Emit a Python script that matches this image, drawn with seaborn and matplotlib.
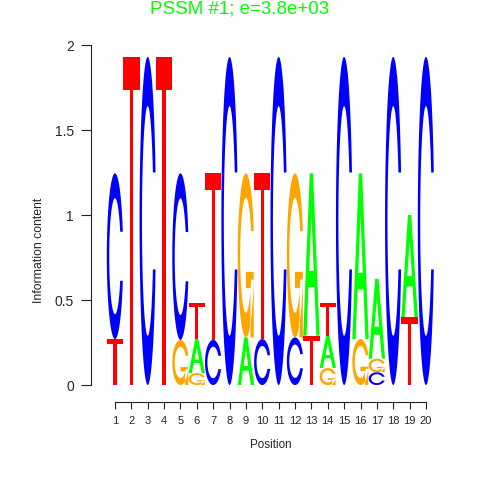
import numpy as np
import pandas as pd
import matplotlib
matplotlib.use("Agg")
import matplotlib.pyplot as plt
import seaborn as sns
from matplotlib.path import Path
from matplotlib.patches import PathPatch

# information content (bits) per letter
positions = list(range(1, 21))
bits_A = [0, 0, 0, 0, 0, 0.20, 0, 0, 0.28, 0, 0, 0, 0.955, 0.19, 0, 0.975, 0.47, 0, 0.60, 0]
bits_C = [0.975, 0, 1.93, 0, 0.98, 0, 0.265, 1.93, 0, 0.27, 1.93, 0.28, 0, 0, 1.93, 0, 0.075, 1.93, 0, 1.93]
bits_G = [0, 0, 0, 0, 0.265, 0.07, 0, 0, 0.965, 0, 0, 0.965, 0, 0.10, 0, 0.27, 0.08, 0, 0, 0]
bits_T = [0.27, 1.93, 0, 1.93, 0, 0.21, 0.98, 0, 0, 0.975, 0, 0, 0.29, 0.19, 0, 0, 0, 0, 0.40, 0]

y_ticks = [0, 0.5, 1, 1.5, 2]
y_tick_labels = ["0", "0.5", "1", "1.5", "2"]
title = "PSSM #1; e=3.8e+03"

letter_colors = {"A": "#00FF00", "C": "#0000FF", "G": "#FFA500", "T": "#FF0000"}

df = pd.DataFrame({"A": bits_A, "C": bits_C, "G": bits_G, "T": bits_T}, index=positions)


# letter outlines in a unit box, seqLogo style polygons
def c_shape():
    a1 = np.linspace(0.3 + np.pi / 2, np.pi, 100)
    a2 = np.linspace(np.pi, 1.5 * np.pi, 100)
    xl = np.concatenate([0.5 + 0.5 * np.sin(a1), 0.5 + 0.5 * np.sin(a2)])
    yl = np.concatenate([0.5 + 0.5 * np.cos(a1), 0.5 + 0.5 * np.cos(a2)])
    x = np.concatenate([xl, xl[::-1]])
    y = np.concatenate([yl, 1 - yl[::-1]])
    hmax = 0.5 + 0.5 * np.cos(a1[0])
    xi1 = 0.5 + 0.35 * np.sin(a1)
    yi1 = 0.5 + 0.35 * np.cos(a1)
    keep = yi1 <= hmax
    xi1, yi1 = xi1[keep], yi1[keep]
    yi1[0] = hmax
    xi = np.concatenate([xi1, 0.5 + 0.35 * np.sin(a2)])
    yi = np.concatenate([yi1, 0.5 + 0.35 * np.cos(a2)])
    x1 = np.concatenate([xi, xi[::-1]])
    y1 = np.concatenate([yi, 1 - yi[::-1]])
    x = np.concatenate([x, x1[::-1]])
    y = np.concatenate([y, y1[::-1]])
    return [np.column_stack([x, y])], 0.5 + 0.5 * np.sin(a1[0])


def letter_polys(letter):
    if letter == "T":
        return [np.array([[0, 10], [10, 10], [10, 9], [6, 9], [6, 0], [4, 0], [4, 9], [0, 9]]) / 10]
    if letter == "A":
        outer = np.array([[0, 0], [4, 10], [6, 10], [10, 0], [8, 0], [6.8, 3], [3.2, 3], [2, 0]]) / 10
        inner = np.array([[6.4, 4], [5, 7.5], [3.6, 4]]) / 10
        return [outer, inner]
    polys, r1 = c_shape()
    if letter == "G":
        h1 = 0.4
        bar = np.array([[r1, h1], [0.5, h1], [0.5, h1 - 0.1], [r1 - 0.2, h1 - 0.1],
                        [r1 - 0.2, 0], [r1, 0]])
        polys = polys + [bar]
    return polys


def signed_area(p):
    x, y = p[:, 0], p[:, 1]
    return 0.5 * np.sum(x * np.roll(y, -1) - np.roll(x, -1) * y)


def draw_letter(ax, letter, x, y0, h, color, width=1.0):
    polys = letter_polys(letter)
    verts, codes = [], []
    for i, p in enumerate(polys):
        # the A counter is a hole: give it the opposite winding
        if letter == "A":
            want_ccw = (i == 0)
            if (signed_area(p) > 0) != want_ccw:
                p = p[::-1]
        pts = np.column_stack([x - width / 2 + width * p[:, 0], y0 + h * p[:, 1]])
        verts.extend(pts.tolist() + [pts[0].tolist()])
        codes.extend([Path.MOVETO] + [Path.LINETO] * (len(pts) - 1) + [Path.CLOSEPOLY])
    ax.add_patch(PathPatch(Path(verts, codes), facecolor=color, edgecolor='none',
                           clip_on=False))


sns.set_style("ticks")
plt.rcParams['font.family'] = ['Liberation Sans', 'DejaVu Sans']

fig = plt.figure(figsize=(4.8, 4.8), dpi=100)
ax = fig.add_axes([0.2225, 0.1979, 0.682, 0.7083])

# stack letters, smallest at the bottom
for pos, row in df.iterrows():
    y = 0
    for letter, h in row.sort_values().items():
        if h <= 0:
            continue
        draw_letter(ax, letter, pos, y, h, letter_colors[letter])
        y += h

ax.set_xlim(0.5, 20.5)
ax.set_ylim(0, 2)
ax.set_xticks(positions)
ax.set_xticklabels([str(p) for p in positions])
ax.set_yticks(y_ticks)
ax.set_yticklabels(y_tick_labels)

sns.despine(ax=ax, offset={'left': 11.6, 'bottom': 12.2}, trim=True)
for s in ["left", "bottom"]:
    ax.spines[s].set_color("#222222")
    ax.spines[s].set_linewidth(0.8)

ax.tick_params(axis='y', length=7, width=0.8, color="#222222", labelsize=10, pad=5)
ax.tick_params(axis='x', length=5, width=0.8, color="#222222", labelsize=8, pad=5)

ax.set_xlabel("Position", fontsize=8.4)
ax.xaxis.label.set_va('center')
ax.xaxis.set_label_coords(0.5, -0.176)
ax.set_ylabel("Information content", fontsize=8.8)
ax.yaxis.label.set_va('center')
ax.yaxis.set_label_coords(-0.207, 0.397)

fig.text(0.5, 1 - 9 / 480, title, ha='center', va='center',
         color="#00FF00", fontsize=13.5)

fig.savefig("out.png", dpi=100)
